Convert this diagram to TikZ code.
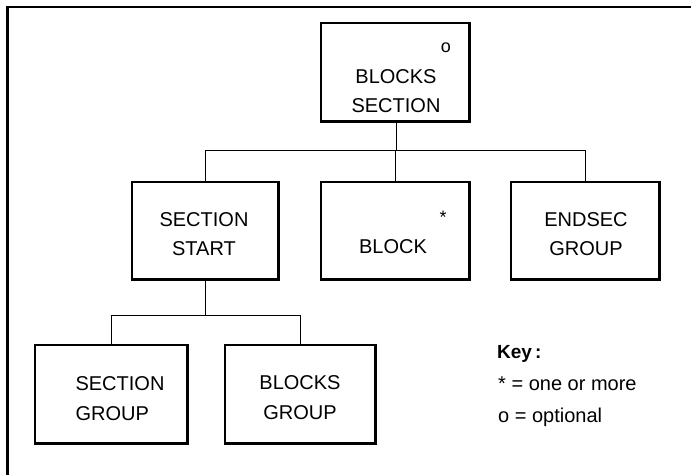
\documentclass[tikz,border=0pt]{standalone}
\usepackage{fontspec}
\setmainfont{Liberation Sans}
\begin{document}
\begin{tikzpicture}[x=1pt,y=-1pt,
  box/.style={draw, line width=1.2pt, inner sep=0pt},
  lbl/.style={font=\fontsize{20}{29}\selectfont, align=center, inner sep=0pt},
  smallmark/.style={font=\fontsize{18}{18}\selectfont, inner sep=0pt},
  keytxt/.style={font=\fontsize{20}{32}\selectfont, align=left, inner sep=0pt, anchor=north west},
  conn/.style={line width=0.9pt}]
\useasboundingbox (0,0) rectangle (691,475);
% frame (top and left edges)
\draw[line width=2.8pt] (691,7) -- (7.5,7) -- (7.5,475);
% boxes
\node[box, minimum width=148pt, minimum height=98pt] (top) at (395,72) {};
\node[box, minimum width=146pt, minimum height=97pt] (ss) at (205,230.5) {};
\node[box, minimum width=148pt, minimum height=97pt] (blk) at (395,230.5) {};
\node[box, minimum width=148pt, minimum height=97pt] (end) at (585,230.5) {};
\node[box, minimum width=152pt, minimum height=98pt] (sg) at (111,394) {};
\node[box, minimum width=150pt, minimum height=98pt] (bg) at (300,394) {};
\foreach \b in {top,ss,blk,end,sg,bg}{
  \draw[line width=2pt] (\b.north east) -- (\b.south east) -- (\b.south west);
}
% labels
\node[lbl] (ttop) at (396,91) {BLOCKS\\SECTION};
\node[smallmark] (otop) at (446,48) {o};
\node[lbl] (tss) at (204,234) {SECTION\\START};
\node[lbl] (tblk) at (393,247) {BLOCK};
\node[smallmark] (sblk) at (443,217) {*};
\node[lbl] (tend) at (586,234) {ENDSEC\\GROUP};
\node[lbl, align=left, font=\fontsize{20}{30}\selectfont] (tsg) at (120,399) {SECTION\\GROUP};
\node[lbl, font=\fontsize{20}{30}\selectfont] (tbg) at (300,398) {BLOCKS\\GROUP};
% key
\node[keytxt, font=\bfseries\fontsize{19}{19}\selectfont] (keyh) at (497,345) {Key\,:};
\node[keytxt] (keyb) at (498,377) {* = one or more\\o = optional};
% connectors
\coordinate (j1) at (396,150);
\coordinate (j2) at (205,315);
\draw[conn] (top.south -| j1) -- (j1);
\draw[conn] (ss.north) |- (end.north |- j1) -- (end.north);
\draw[conn] (blk.north) -- (blk.north |- j1);
\draw[conn] (ss.south) -- (j2);
\draw[conn] (sg.north) |- (bg.north |- j2) -- (bg.north);
\end{tikzpicture}
\end{document}
